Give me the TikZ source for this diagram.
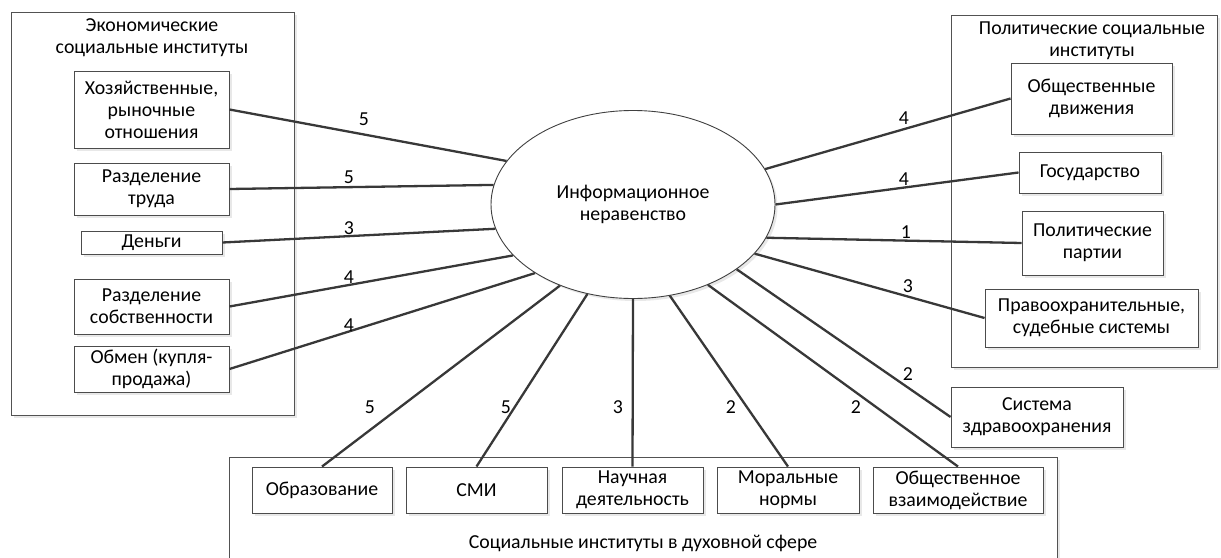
\documentclass[tikz,border=0pt]{standalone}
\usepackage{fontspec}
\setmainfont{Carlito}
\usetikzlibrary{shapes.geometric,shadows}
\begin{document}
\begin{tikzpicture}[x=1pt,y=-1pt,
  txt/.style={font=\fontsize{19.8}{22}\selectfont, align=center, inner sep=0pt},
  shad/.style={drop shadow={shadow xshift=2.5pt,shadow yshift=-2.5pt,fill=black!9,opacity=1}},
  box/.style={txt, draw=black!70, line width=0.9pt, fill=white, shad},
  outerbox/.style={draw=black!68, line width=0.9pt, fill=white, shad, inner sep=0pt},
  conn/.style={draw=black!78, line width=2.3pt},
  lbl/.style={txt}]
\useasboundingbox (0,0) rectangle (1221,557);
\clip (0,0) rectangle (1221,557);
% outer groups
\node[outerbox, minimum width=283pt, minimum height=403pt] (econ) at (152.5,213.5) {};
\node[outerbox, minimum width=266pt, minimum height=352pt] (polit) at (1084,191) {};
\node[outerbox, minimum width=828pt, minimum height=112pt] (dukh) at (643,513) {};
\node[txt] (econT) at (152,37.5) {Экономические\\социальные институты};
\node[txt] (politT) at (1092,40.5) {Политические социальные\\институты};
\node[txt] (dukhT) at (643,543) {Социальные институты в духовной сфере};
% centre
\node[ellipse, draw=black!75, line width=0.9pt, fill=white, shad, minimum width=284pt, minimum height=188pt, inner sep=0pt, txt] (ell) at (633,204.5) {Информационное\\неравенство};
% left boxes
\node[box, minimum width=155pt, minimum height=77pt] (hoz) at (151.5,109.5) {Хозяйственные,\\рыночные\\отношения};
\node[box, minimum width=155pt, minimum height=52pt] (trud) at (151.5,189) {Разделение\\труда};
\node[box, minimum width=141pt, minimum height=23pt] (dengi) at (151.5,242.5) {Деньги};
\node[box, minimum width=155pt, minimum height=55pt] (sobst) at (151.5,306.5) {Разделение\\собственности};
\node[box, minimum width=155pt, minimum height=46pt] (obmen) at (151.5,369) {Обмен (купля-\\продажа)};
% right boxes
\node[box, minimum width=161pt, minimum height=71pt] (dvizh) at (1091.5,98.5) {Общественные\\движения};
\node[box, minimum width=142pt, minimum height=41pt] (gos) at (1090,172.5) {Государство};
\node[box, minimum width=141pt, minimum height=64pt] (partii) at (1092.5,243) {Политические\\партии};
\node[box, minimum width=213pt, minimum height=58pt] (pravo) at (1091.5,318) {Правоохранительные,\\судебные системы};
\node[box, minimum width=172pt, minimum height=60pt] (zdrav) at (1037,417) {Система\\здравоохранения};
% bottom boxes
\node[box, minimum width=140pt, minimum height=46pt] (obraz) at (322,490) {Образование};
\node[box, minimum width=141pt, minimum height=46pt] (smi) at (476.5,490) {СМИ};
\node[box, minimum width=141pt, minimum height=46pt] (nauch) at (632.5,490) {Научная\\деятельность};
\node[box, minimum width=142pt, minimum height=46pt] (moral) at (788,490) {Моральные\\нормы};
\node[box, minimum width=170pt, minimum height=46pt] (obsh) at (958,490) {Общественное\\взаимодействие};
% connectors
\draw[conn] (hoz.east) -- (ell.161);
\draw[conn] (trud.east) -- (ell.172);
\draw[conn] (dengi.east) -- (ell.190);
\draw[conn] (sobst.east) -- (ell.203);
\draw[conn] (obmen.east) -- (ell.215);
\draw[conn] (obraz.north) -- (ell.228);
\draw[conn] (smi.north) -- (ell.243);
\draw[conn] (nauch.north) -- (ell.270);
\draw[conn] (moral.north) -- (ell.292);
\draw[conn] (obsh.north) -- (ell.313.5);
\draw[conn] (zdrav.west) -- (ell.328);
\draw[conn] (pravo.west) -- (ell.338.5);
\draw[conn] (partii.west) -- (ell.346);
\draw[conn] (gos.west) -- (ell.0);
\draw[conn] (dvizh.west) -- (ell.15);
% labels
\node[lbl] (l1) at (364,119) {5};
\node[lbl] (l2) at (349,177) {5};
\node[lbl] (l3) at (349,228) {3};
\node[lbl] (l4) at (349,277) {4};
\node[lbl] (l5) at (349,325) {4};
\node[lbl] (l6) at (370,407) {5};
\node[lbl] (l7) at (506,407) {5};
\node[lbl] (l8) at (618,407) {3};
\node[lbl] (l9) at (731,407) {2};
\node[lbl] (l10) at (856,407) {2};
\node[lbl] (l11) at (908,374) {2};
\node[lbl] (l12) at (908,286) {3};
\node[lbl] (l13) at (906,232) {1};
\node[lbl] (l14) at (904,179) {4};
\node[lbl] (l15) at (904,118) {4};
\end{tikzpicture}
\end{document}
